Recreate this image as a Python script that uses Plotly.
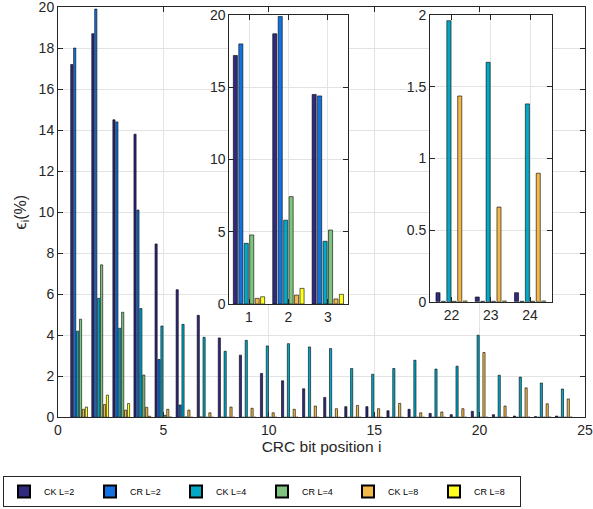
import plotly.graph_objects as go

positions = list(range(1, 25))
series_names = ["CK L=2", "CR L=2", "CK L=4", "CR L=4", "CK L=8", "CR L=8"]
ck_l2 = [17.2, 18.7, 14.5, 13.8, 8.45, 6.22, 4.97, 3.87, 3.03, 2.14, 1.78, 1.39,
         0.97, 0.52, 0.52, 0.32, 0.39, 0.19, 0.13, 0.29, 0.13, 0.063, 0.033, 0.063]
cr_l2 = [18.0, 19.9, 14.4, 10.1, 2.82, 0.6, 0.02, 0.01, 0, 0, 0, 0,
         0, 0, 0, 0, 0, 0, 0, 0, 0, 0.003, 0.003, 0.003]
ck_l4 = [4.2, 5.8, 4.34, 5.3, 4.45, 4.53, 3.9, 3.22, 3.75, 3.48, 3.59, 3.43,
         3.35, 2.38, 2.1, 2.38, 2.78, 2.35, 2.49, 4.0, 2.05, 1.96, 1.67, 1.38]
cr_l4 = [4.78, 7.43, 5.12, 2.06, 0.1, 0.02, 0, 0, 0, 0, 0, 0,
         0, 0, 0, 0, 0, 0, 0, 0, 0, 0.003, 0.003, 0.003]
ck_l8 = [0.39, 0.62, 0.35, 0.49, 0.39, 0.35, 0.22, 0.5, 0.44, 0.22, 0.39, 0.55,
         0.42, 0.58, 0.42, 0.68, 0.22, 0.26, 0.42, 3.16, 0.55, 1.435, 0.66, 0.896]
cr_l8 = [0.5, 1.08, 0.67, 0.05, 0.01, 0, 0, 0, 0, 0, 0, 0,
         0, 0, 0, 0, 0, 0, 0, 0, 0, 0.005, 0.005, 0.005]
series_values = [ck_l2, cr_l2, ck_l4, cr_l4, ck_l8, cr_l8]
colors = ["#2F2A7E", "#1273E0", "#02A8C5", "#7EC47E", "#F2B84A", "#FFFF22"]

main_yticks = list(range(0, 21, 2))
main_xticks = [0, 5, 10, 15, 20, 25]
inset1_yticks = [0, 5, 10, 15, 20]
inset2_yticks = [0, 0.5, 1, 1.5, 2]
inset2_ytext = ["0", "0.5", "1", "1.5", "2"]

FONT = "Liberation Sans, Arial, sans-serif"
W, H = 593, 509

fig = go.Figure()
for name, vals, col in zip(series_names, series_values, colors):
    fig.add_trace(go.Bar(x=positions, y=vals, name=name, marker_color=col,
                         marker_line_color="black", marker_line_width=0.6,
                         xaxis="x", yaxis="y", legendgroup=name))
for name, vals, col in zip(series_names, series_values, colors):
    fig.add_trace(go.Bar(x=positions[0:3], y=vals[0:3], name=name, marker_color=col,
                         marker_line_color="black", marker_line_width=0.6,
                         xaxis="x2", yaxis="y2", legendgroup=name, showlegend=False))
for name, vals, col in zip(series_names, series_values, colors):
    fig.add_trace(go.Bar(x=positions[21:24], y=vals[21:24], name=name, marker_color=col,
                         marker_line_color="black", marker_line_width=0.6,
                         xaxis="x3", yaxis="y3", legendgroup=name, showlegend=False))

def px_x(a, b):
    return [a / W, b / W]

def px_y(top, bottom):
    return [1 - bottom / H, 1 - top / H]

axis_common = dict(showline=True, linecolor="#262626", linewidth=1, mirror="ticks",
                   ticks="inside", ticklen=5, tickcolor="#262626", automargin=False,
                   ticklabeloverflow="allow",
                   showgrid=True, gridcolor="#E3E3E3", gridwidth=1, zeroline=False,
                   tickfont=dict(family=FONT, size=14, color="#262626"))

fig.update_layout(
    width=W, height=H,
    margin=dict(l=0, r=0, t=0, b=0, autoexpand=False),
    paper_bgcolor="white", plot_bgcolor="white",
    barmode="group", bargap=0.17, bargroupgap=0.25,
    font=dict(family=FONT, color="#262626"),
    xaxis=dict(domain=px_x(58, 585), range=[0, 25], tickvals=main_xticks,
               title=dict(text="CRC bit position i", font=dict(size=15.5, family=FONT), standoff=4),
               anchor="y", **axis_common),
    yaxis=dict(domain=px_y(7, 417.3), range=[0, 20], tickvals=main_yticks,
               title=dict(text="ϵ<sub>i</sub>(%)", font=dict(size=16, family=FONT), standoff=8),
               anchor="x", **axis_common),
    xaxis2=dict(domain=px_x(229.3, 348.3), range=[0.5, 3.52], tickvals=[1, 2, 3],
                anchor="y2", **axis_common),
    yaxis2=dict(domain=px_y(15, 304), range=[0, 20], tickvals=inset1_yticks,
                anchor="x2", **axis_common),
    xaxis3=dict(domain=px_x(430, 551.7), range=[21.45, 24.55], tickvals=[22, 23, 24],
                anchor="y3", **axis_common),
    yaxis3=dict(domain=px_y(15, 301.7), range=[0, 2], tickvals=inset2_yticks,
                ticktext=inset2_ytext, anchor="x3", **axis_common),
    legend=dict(orientation="h", x=3 / W, xanchor="left",
                y=1 - 507 / H, yanchor="bottom",
                bordercolor="#262626", borderwidth=1, bgcolor="white",
                font=dict(family=FONT, size=9, color="black"),
                tracegroupgap=0, itemsizing="constant",
                entrywidth=41, entrywidthmode="pixels", traceorder="normal"),
)

fig.add_shape(type="rect", xref="x2", yref="y2", x0=0.5, x1=3.52, y0=0, y1=20,
              fillcolor="white", line_width=0, layer="below")
fig.add_shape(type="rect", xref="x3", yref="y3", x0=21.45, x1=24.55, y0=0, y1=2,
              fillcolor="white", line_width=0, layer="below")

fig.write_html("out.html", config={"displayModeBar": False},
               post_script="document.body.style.margin='0px';")
